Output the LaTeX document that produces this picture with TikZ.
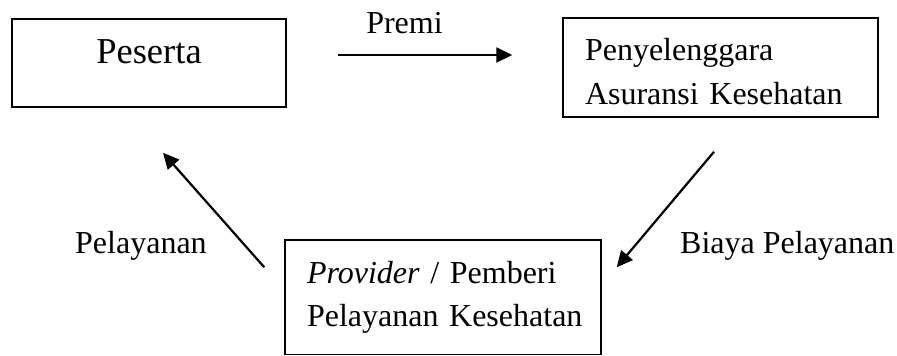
\documentclass[tikz,border=0pt]{standalone}
\usepackage{fontspec}
\setmainfont{Liberation Serif}
\usetikzlibrary{positioning, arrows.meta, calc}

\tikzset{
    box/.style={draw, rectangle, line width=1.5pt, inner sep=0pt},
    flow/.style={-{Triangle[length=16pt, width=15pt]}, line width=2.2pt},
    lbl/.style={inner sep=0pt, font=\fontsize{32}{43}\selectfont}
}

\begin{document}
\begin{tikzpicture}[x=1pt, y=-1pt]
        \useasboundingbox (0,0) rectangle (897,356);

        \node[box, minimum width=274pt, minimum height=88pt, text height=22pt, text depth=22pt,
              font=\fontsize{36.5}{44}\selectfont] (pes) at (149, 63) {Peserta}; % peserta
        \node[box, minimum width=315pt, minimum height=99pt, text width=271pt, align=left,
              font=\fontsize{32}{44}\selectfont] (peny) at (720.5, 67.5)
              {\rule{0pt}{31pt}\mbox{Penyelenggara}\\\mbox{Asuransi Kesehatan}}; % penyelenggara
        \node[box, minimum width=316pt, minimum height=114.5pt, text width=272pt, align=left,
              font=\fontsize{32}{43}\selectfont] (prov) at (443, 297.25)
              {\mbox{\textit{Provider} / Pemberi}\\\mbox{Pelayanan Kesehatan}}; % provider

        \node[lbl, anchor=base] (premi) at (404.5, 33) {Premi}; % premi
        \node[lbl, anchor=base west] (pelayanan) at (75, 253) {Pelayanan}; % pelayanan
        \node[lbl, anchor=base west] (biaya) at (680, 253) {Biaya Pelayanan}; % biaya

        \draw[flow] ([shift={(51,-8)}]pes.east) -- ([shift={(-50,-12.5)}]peny.west);
        \draw[flow] ([shift={(-6.5,34)}]peny.south) -- ([shift={(15,28)}]prov.north east);
        \draw[flow] ([shift={(-20,28)}]prov.north west) -- ([shift={(14,45)}]pes.south);
\end{tikzpicture}
\end{document}
